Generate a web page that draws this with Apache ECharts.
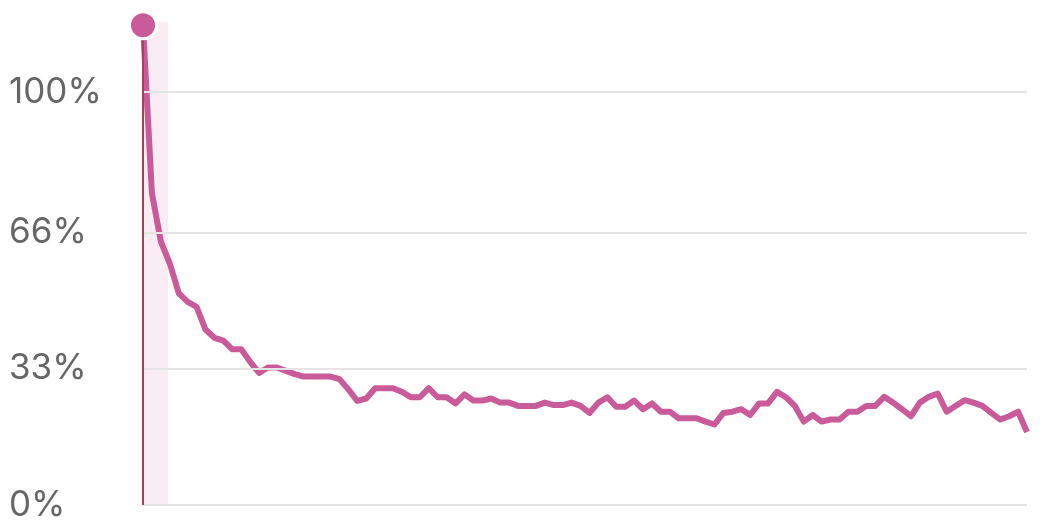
<!DOCTYPE html>
<html>
<head>
<meta charset="utf-8">
<script src="https://cdn.jsdelivr.net/npm/echarts@6/dist/echarts.min.js"></script>
<style>
  html, body { margin: 0; padding: 0; background: #fff; }
  #chart { width: 1055px; height: 532px; }
</style>
</head>
<body>
<div id="chart"></div>
<script>
// retention per day, in percent
var retention = [
  116.2, 75.5, 63.8, 58.5, 51.3, 49.2, 48.0, 42.5, 40.5, 39.8,
  37.7, 37.7, 34.7, 32.0, 33.3, 33.3, 32.5, 31.7, 31.1, 31.1,
  31.1, 31.1, 30.5, 28.0, 25.2, 25.8, 28.3, 28.3, 28.3, 27.4,
  26.1, 26.1, 28.3, 26.1, 26.1, 24.6, 26.8, 25.3, 25.3, 25.8,
  24.8, 24.8, 24.0, 24.0, 24.0, 24.8, 24.2, 24.2, 24.8, 24.0,
  22.3, 24.8, 26.1, 23.8, 23.8, 25.3, 23.2, 24.6, 22.6, 22.6,
  21.0, 21.0, 21.0, 20.2, 19.5, 22.3, 22.6, 23.2, 21.8, 24.6,
  24.6, 27.4, 26.1, 24.0, 20.2, 21.8, 20.2, 20.7, 20.7, 22.6,
  22.6, 24.0, 24.0, 26.2, 24.8, 23.2, 21.5, 24.8, 26.2, 27.0,
  22.6, 24.0, 25.4, 24.8, 24.0, 22.3, 20.7, 21.5, 22.6, 17.7
];

var yTicks = [0, 33, 66, 100];

// highlighted range at the start of the curve
var highlightFrom = 0;
var highlightTo = 2.8;

var lineColor = '#c95b9b';

var chart = echarts.init(document.getElementById('chart'));

var points = retention.map(function (v, i) { return [i, v]; });

var option = {
  animation: false,
  grid: { left: 143, right: 28, top: 22, bottom: 27 },
  xAxis: {
    type: 'value',
    min: 0,
    max: retention.length - 1,
    axisLine: { show: false },
    axisTick: { show: false },
    axisLabel: { show: false },
    splitLine: { show: false }
  },
  yAxis: {
    type: 'value',
    min: 0,
    max: 117,
    axisLine: { show: false },
    axisTick: { show: false, customValues: yTicks },
    axisLabel: {
      customValues: yTicks,
      formatter: '{value}%',
      align: 'left',
      margin: 134,
      color: '#666',
      fontSize: 35,
      fontFamily: 'Inter, "Noto Sans", sans-serif',
      verticalAlign: 'middle',
      padding: [5, 0, 0, 0]
    },
    splitLine: { show: false }
  },
  series: [{
    type: 'line',
    data: points,
    showSymbol: false,
    lineStyle: { color: lineColor, width: 6, join: 'round' },
    z: 3,
    markArea: {
      silent: true,
      itemStyle: { color: '#f9edf3' },
      data: [[{ xAxis: highlightFrom }, { xAxis: highlightTo }]]
    },
    markLine: {
      silent: true,
      symbol: 'none',
      label: { show: false },
      data: yTicks.map(function (t) {
        return { yAxis: t, lineStyle: { color: '#e4e4e4', width: 2, type: 'solid' } };
      }).concat([
        { xAxis: 0, lineStyle: { color: '#a3464f', width: 2, type: 'solid' } }
      ])
    },
    markPoint: {
      silent: true,
      label: { show: false },
      data: [{
        coord: points[0],
        symbol: 'circle',
        symbolSize: 27,
        itemStyle: { color: lineColor, borderColor: '#fff', borderWidth: 3 }
      }]
    }
  }]
};

chart.setOption(option);
</script>
</body>
</html>
